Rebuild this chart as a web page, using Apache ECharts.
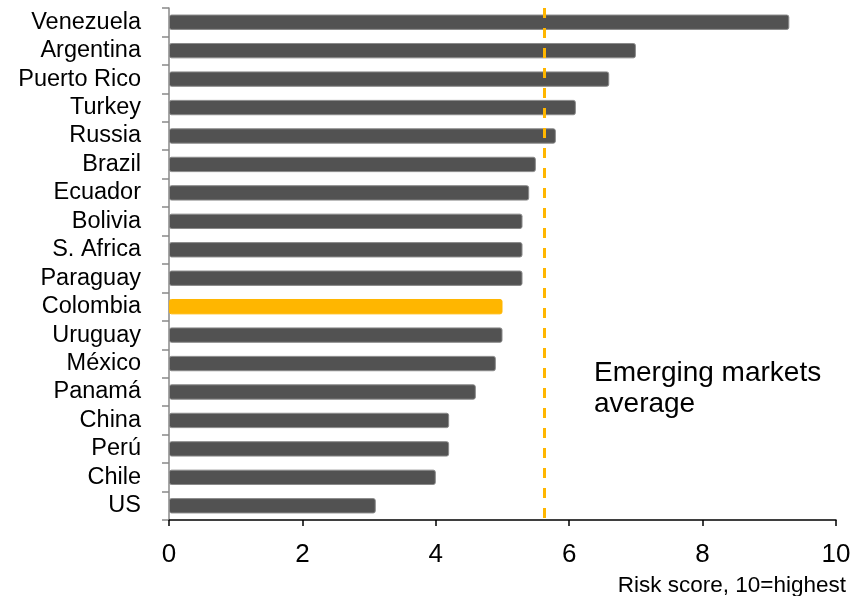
<!DOCTYPE html>
<html>
<head>
<meta charset="utf-8">
<script src="https://cdn.jsdelivr.net/npm/echarts@6/dist/echarts.min.js"></script>
<style>
  html, body { margin: 0; padding: 0; background: #fff; }
  #chart { width: 863px; height: 596px; }
</style>
</head>
<body>
<div id="chart"></div>
<script>
// Country risk scores (10 = highest risk)
const countries = ['Venezuela', 'Argentina', 'Puerto Rico', 'Turkey', 'Russia', 'Brazil', 'Ecuador',
  'Bolivia', 'S. Africa', 'Paraguay', 'Colombia', 'Uruguay', 'México', 'Panamá', 'China', 'Perú', 'Chile', 'US'];
const riskScores = [9.3, 7.0, 6.6, 6.1, 5.8, 5.5, 5.4, 5.3, 5.3, 5.3, 5.0, 5.0, 4.9, 4.6, 4.2, 4.2, 4.0, 3.1];
const highlighted = 'Colombia';
const emergingAverage = 5.62;
const xTicks = [0, 2, 4, 6, 8, 10];

const FONT = 'Liberation Sans, Arial, sans-serif';
const BAR = '#525252';
const GOLD = '#FFB600';

const chart = echarts.init(document.getElementById('chart'), null, { renderer: 'canvas' });

chart.setOption({
  animation: false,
  backgroundColor: '#fff',
  grid: { left: 169, right: 27, top: 8, bottom: 76, containLabel: false },
  xAxis: {
    type: 'value',
    min: xTicks[0],
    max: xTicks[xTicks.length - 1],
    interval: xTicks[1] - xTicks[0],
    axisLine: { show: true, lineStyle: { color: '#000', width: 1.5 } },
    axisTick: { show: true, length: 6, lineStyle: { color: '#000', width: 1.5 } },
    splitLine: { show: false },
    axisLabel: { color: '#000', fontSize: 26, fontFamily: FONT, margin: 22 }
  },
  yAxis: {
    type: 'category',
    data: countries,
    inverse: true,
    axisLine: { show: true, lineStyle: { color: '#898989', width: 1.5 } },
    axisTick: { show: true, length: 7, interval: 0, lineStyle: { color: '#898989', width: 1.5 } },
    axisLabel: { color: '#000', fontSize: 23.5, fontFamily: FONT, margin: 28, interval: 0 }
  },
  series: [{
    type: 'bar',
    barCategoryGap: '46%',
    data: riskScores.map((v, i) => countries[i] === highlighted
      ? { value: v, itemStyle: { color: GOLD, borderColor: GOLD } }
      : v),
    itemStyle: { color: BAR, borderColor: '#8a8a8a', borderWidth: 1, borderRadius: 2 },
    markLine: {
      silent: true,
      symbol: 'none',
      label: { show: false },
      lineStyle: { color: GOLD, width: 3, type: [10, 10] },
      data: [{ xAxis: emergingAverage }]
    }
  }],
  graphic: [
    {
      type: 'text',
      left: 594,
      top: 358,
      style: {
        text: 'Emerging markets\naverage',
        fontSize: 28,
        lineHeight: 31,
        fontFamily: FONT,
        fill: '#000'
      }
    },
    {
      type: 'text',
      right: 17,
      top: 574,
      style: {
        text: 'Risk score, 10=highest',
        fontSize: 22.5,
        fontFamily: FONT,
        fill: '#000'
      }
    }
  ]
});
</script>
</body>
</html>
